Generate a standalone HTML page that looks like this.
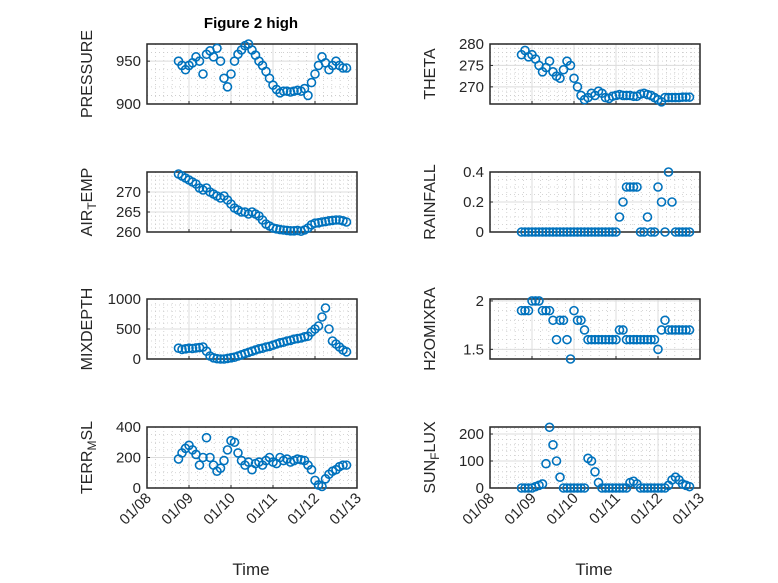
<!DOCTYPE html>
<html><head><meta charset="utf-8"><style>
html,body{margin:0;padding:0;background:#fff;}
svg{display:block;font-family:"Liberation Sans","DejaVu Sans",sans-serif;}
</style></head><body>
<svg id="fig" width="778" height="583" viewBox="0 0 778 583" xmlns="http://www.w3.org/2000/svg">
<rect x="0" y="0" width="778" height="583" fill="#fff"/>
<text x="251" y="28" text-anchor="middle" font-size="15" font-weight="bold" fill="#000">Figure 2 high</text>
</svg>
<script>
const timeDays = [];
for (let i = 0; i < 49; i++) timeDays.push(0.75 + i / 12);
const xTickLabels = ["01/08","01/09","01/10","01/11","01/12","01/13"];
const pressure = [950,945,940,945,948,955,950,935,958,962,955,965,950,930,920,935,950,958,963,968,970,963,957,950,945,938,930,922,917,913,915,915,914,915,916,915,918,910,925,935,945,955,948,940,945,950,945,942,942];
const airTemp = [274.5,274,273.5,273,272.5,272,271,270.5,271,270,269.5,269,268.5,269,268,267,266,265.5,265,265,264.5,265,264.5,264,263,262,261.5,261,260.8,260.6,260.5,260.4,260.3,260.3,260.4,260.2,260.5,261,261.8,262.2,262.3,262.5,262.6,262.8,262.9,263,263,262.8,262.5];
const mixDepth = [180,160,170,180,175,185,190,200,130,50,20,5,0,0,10,20,30,50,70,90,110,130,150,170,180,200,210,230,250,270,280,300,310,330,340,350,370,380,450,500,550,700,850,500,300,250,200,150,120];
const terrMsl = [190,230,260,280,250,220,150,200,330,200,150,110,130,180,250,310,300,230,180,150,170,120,160,170,150,180,200,170,160,200,180,190,170,180,190,185,180,150,120,50,20,10,60,90,110,120,140,150,150];
const theta = [277.5,278.5,277,277.5,276.5,275,273.5,274.5,276,273.5,272.5,272,274,276,275,272,270,268,267,267.5,268.5,268,269,268.5,267.5,267.3,267.8,268,268.2,268,268,268,267.8,267.8,268.3,268.5,268.2,268,267.5,267,266.5,267.5,267.5,267.5,267.5,267.5,267.6,267.6,267.6];
const rainfall = [0,0,0,0,0,0,0,0,0,0,0,0,0,0,0,0,0,0,0,0,0,0,0,0,0,0,0,0,0.1,0.2,0.3,0.3,0.3,0.3,0,0,0.1,0,0,0.3,0.2,0,0.4,0.2,0,0,0,0,0];
const h2oMixRa = [1.9,1.9,1.9,2.0,2.0,2.0,1.9,1.9,1.9,1.8,1.6,1.8,1.8,1.6,1.4,1.9,1.8,1.8,1.7,1.6,1.6,1.6,1.6,1.6,1.6,1.6,1.6,1.6,1.7,1.7,1.6,1.6,1.6,1.6,1.6,1.6,1.6,1.6,1.6,1.5,1.7,1.8,1.7,1.7,1.7,1.7,1.7,1.7,1.7];
const sunFlux = [0,0,0,0,5,10,15,90,225,160,100,40,0,0,0,0,0,0,0,110,100,60,20,0,0,0,0,0,0,0,0,20,25,15,0,0,0,0,0,0,0,0,10,30,40,30,15,10,5];
const pressureTicks = [900,950];
const thetaTicks = [270,275,280];
const airTempTicks = [260,265,270];
const rainfallTicks = [0,0.2,0.4];
const mixDepthTicks = [0,500,1000];
const h2oTicks = [1.5,2];
const terrTicks = [0,200,400];
const sunTicks = [0,100,200];

const NS = "http://www.w3.org/2000/svg";
const svg = document.getElementById('fig');
function mk(tag, attrs, parent) {
  const e = document.createElementNS(NS, tag);
  for (const k in attrs) e.setAttribute(k, attrs[k]);
  (parent || svg).appendChild(e);
  return e;
}
const COLS = [147, 490];
const W = 210;
const ROWS = [[44,104],[172,232],[299,359],[427,488]];
const X0 = 0, X1 = 5;

function panel(col, row, vals, ticks, ymin, ymax, minorStep, labelParts, name, bottom) {
  const L = COLS[col], R = L + W, T = ROWS[row][0], B = ROWS[row][1];
  const g = mk('g', {});
  
  
  const xs = t => L + (t - X0) / (X1 - X0) * W;
  const ys = v => B - (v - ymin) / (ymax - ymin) * (B - T);
  for (let d = X0; d < X1; d++) for (let k = 1; k < 5; k++) {
    const x = xs(d + k / 5);
    const ln = mk('line', {x1:x, x2:x, y1:T, y2:B, stroke:'#c8c8c8', 'stroke-width':0.8, 'stroke-dasharray':'1 3'}, g);
    
    
  }
  for (let v = Math.ceil(ymin / minorStep) * minorStep; v < ymax; v += minorStep) {
    const y = ys(v);
    if (Math.abs(y - B) < 1 || Math.abs(y - T) < 1) continue;
    const ln = mk('line', {x1:L, x2:R, y1:y, y2:y, stroke:'#c8c8c8', 'stroke-width':0.8, 'stroke-dasharray':'1 3'}, g);
    
    
  }
  for (let d = X0 + 1; d < X1; d++) {
    const x = xs(d);
    const ln = mk('line', {x1:x, x2:x, y1:T, y2:B, stroke:'#dcdcdc', 'stroke-width':1}, g);
    
    
  }
  ticks.forEach(v => {
    const y = ys(v);
    if (Math.abs(y - B) > 1 && Math.abs(y - T) > 1) {
      const ln = mk('line', {x1:L, x2:R, y1:y, y2:y, stroke:'#dcdcdc', 'stroke-width':1}, g);
      
      
    }
    const tm = mk('line', {x1:L, x2:L + 3, y1:y, y2:y, stroke:'#262626', 'stroke-width':1}, g);
    
    
    const tx = mk('text', {x:L - 6, y:y + 5, 'text-anchor':'end', 'font-size':15, fill:'#262626'}, g);
    
    
    tx.textContent = String(v);
  });
  for (let d = X0; d <= X1; d++) {
    const x = xs(d);
    const tm = mk('line', {x1:x, x2:x, y1:B, y2:B - 3, stroke:'#262626', 'stroke-width':1}, g);
    
    
    if (bottom) {
      const tx = mk('text', {x:x + 5, y:B + 11, 'text-anchor':'end', 'font-size':15, fill:'#262626', transform:`rotate(-45 ${x + 5} ${B + 11})`}, g);
      
      
      tx.textContent = xTickLabels[d];
    }
  }
  const box = mk('rect', {x:L, y:T, width:W, height:B - T, fill:'none', stroke:'#262626', 'stroke-width':1.5}, g);
  
  
  vals.forEach((v, i) => {
    const c = mk('circle', {cx:xs(timeDays[i]), cy:ys(v), r:4, fill:'none', stroke:'#0072BD', 'stroke-width':1.6}, g);
    
    
  });
  const lx = L - (col === 0 ? 55 : 55), ly = (T + B) / 2;
  const lab = mk('text', {x:lx, y:ly, 'text-anchor':'middle', 'font-size':16, fill:'#262626', transform:`rotate(-90 ${lx} ${ly})`}, g);
  
  
  labelParts.forEach(p => {
    const ts = mk('tspan', {}, lab);
    if (p.sub) { ts.setAttribute('font-size', 12); ts.setAttribute('dy', 4); }
    else if (p.after) { ts.setAttribute('dy', -4); }
    ts.textContent = p.t;
  });
  if (bottom) {
    const xl = mk('text', {x:L + W / 2 - 1, y:575, 'text-anchor':'middle', 'font-size':17, fill:'#262626'}, g);
    
    
    xl.textContent = 'Time';
  }
}
panel(0,0,pressure,pressureTicks,900,970,10,[{t:'PRESSURE'}],'pressure',false);
panel(0,1,airTemp,airTempTicks,260,275,1,[{t:'AIR'},{t:'T',sub:true},{t:'EMP',after:true}],'air-temp',false);
panel(0,2,mixDepth,mixDepthTicks,0,1000,100,[{t:'MIXDEPTH'}],'mixdepth',false);
panel(0,3,terrMsl,terrTicks,0,400,50,[{t:'TERR'},{t:'M',sub:true},{t:'SL',after:true}],'terr-msl',true);
panel(1,0,theta,thetaTicks,266,280,1,[{t:'THETA'}],'theta',false);
panel(1,1,rainfall,rainfallTicks,0,0.4,0.05,[{t:'RAINFALL'}],'rainfall',false);
panel(1,2,h2oMixRa,h2oTicks,1.4,2.02,0.1,[{t:'H2OMIXRA'}],'h2omixra',false);
panel(1,3,sunFlux,sunTicks,0,226,20,[{t:'SUN'},{t:'F',sub:true},{t:'LUX',after:true}],'sun-flux',true);
</script>
</body></html>
